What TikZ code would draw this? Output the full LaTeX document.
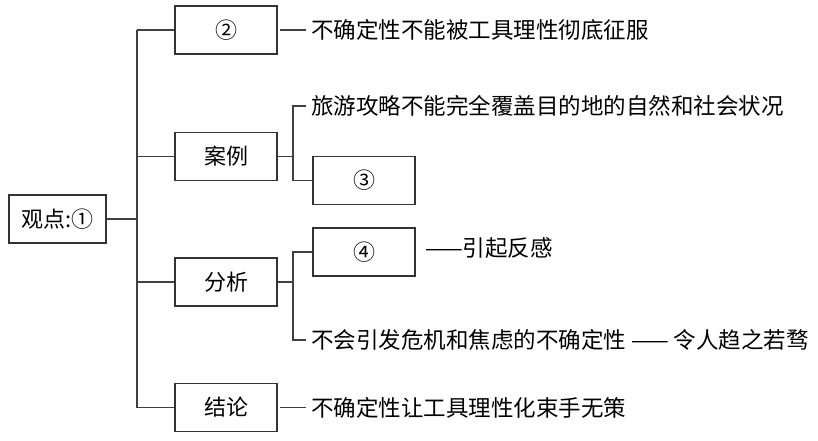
\documentclass[tikz,border=0pt]{standalone}
\usepackage{fontspec}
\newfontfamily\cjk{Noto Sans CJK SC}
\begin{document}
\begin{tikzpicture}[x=1pt,y=-1pt,
  bx/.style={draw=black!80,line width=1.4pt,minimum width=102pt,minimum height=48pt,inner sep=0pt,font=\cjk\fontsize{22}{22}\selectfont},
  ln/.style={draw=black!75,line width=1.4pt},
  tx/.style={anchor=west,inner sep=0pt,font=\cjk\fontsize{22.5}{22.5}\selectfont}]
\useasboundingbox (0,0) rectangle (818,440);
\node[bx,minimum width=97pt] (v) at (57.5,219) {观点:①};
\node[bx] (b2) at (226,30) {②};
\node[bx] (al) at (226,156.5) {案例};
\node[bx] (fx) at (226,282) {分析};
\node[bx] (jl) at (226,407.5) {结论};
\node[bx] (b3) at (364,180.5) {③};
\node[bx] (b4) at (364,252) {④};
\coordinate (t0) at (137,219);
\coordinate (t1) at (137,30);
\coordinate (t2) at (137,407.5);
\draw[ln] (v.east) -- (t0);
\draw[ln] (t1) -- (t2);
\draw[ln] (t1) -- (b2.west);
\draw[ln] (137,156.5) -- (al.west);
\draw[ln] (137,282) -- (fx.west);
\draw[ln] (t2) -- (jl.west);
\node[tx] (s2) at (311,30) {不确定性不能被工具理性彻底征服};
\draw[ln] (280,30) -- (306,30);
\node[tx] (sa) at (311,106) {旅游攻略不能完全覆盖目的地的自然和社会状况};
\draw[ln] (al.east) -- (293,156.5);
\draw[ln] (306,106) -- (293,106) -- (293,180.5) -- (b3.west);
\node[tx] (sf) at (311,340) {不会引发危机和焦虑的不确定性 —— 令人趋之若骛};
\node[tx] (s4) at (425,248) {——引起反感};
\draw[ln] (fx.east) -- (293,282);
\draw[ln] (b4.west) -- (293,252) -- (293,340) -- (306,340);
\node[tx] (sj) at (311,407.5) {不确定性让工具理性化束手无策};
\draw[ln] (280,407.5) -- (306,407.5);
\end{tikzpicture}
\end{document}
